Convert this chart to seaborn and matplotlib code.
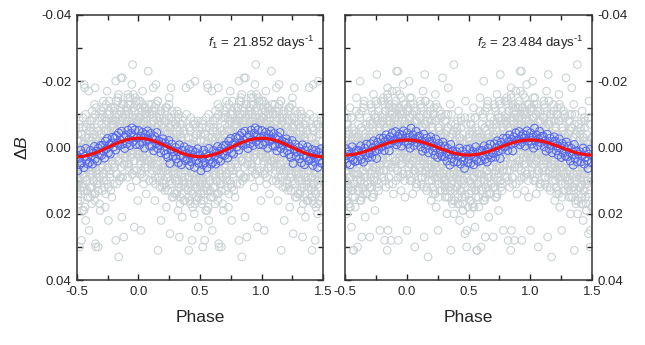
import numpy as np
import matplotlib
matplotlib.use("Agg")
import matplotlib.pyplot as plt
from matplotlib.ticker import MultipleLocator, FormatStrFormatter
import seaborn as sns

# ---- data (phase in thousandths of a cycle, dB in mmag) ----
# scattered single measurements, panel 1 (f1)
gray1_phase = [
    2, 6, 9, 13, 15, 19, 21, 24, 28, 31, 35, 38, 42, 45, 49, 52, 56, 60, 64, 68, 73, 80, 86, 93,
    101, 104, 108, 111, 115, 118, 121, 125, 127, 131, 134, 139, 143, 146, 150, 154, 157, 160, 165, 169, 174, 179, 184, 192,
    203, 206, 210, 214, 217, 221, 224, 228, 233, 236, 240, 244, 247, 251, 257, 261, 265, 268, 272, 277, 281, 286, 290, 296,
    302, 305, 309, 312, 316, 319, 323, 327, 330, 333, 338, 341, 345, 349, 352, 356, 360, 363, 368, 372, 377, 381, 387, 394,
    401, 404, 407, 410, 414, 418, 420, 423, 427, 431, 436, 439, 443, 447, 450, 454, 458, 460, 465, 470, 474, 480, 486, 493,
    502, 506, 509, 513, 516, 520, 523, 527, 531, 535, 538, 542, 546, 549, 553, 557, 560, 564, 568, 572, 577, 583, 590, 597,
    600, 604, 607, 611, 615, 619, 622, 626, 630, 633, 637, 641, 645, 649, 652, 655, 659, 663, 667, 674, 679, 684, 690, 696,
    702, 705, 709, 712, 716, 720, 723, 727, 731, 734, 738, 742, 746, 750, 753, 757, 761, 765, 770, 774, 779, 785, 791, 797,
    801, 804, 808, 812, 816, 817, 821, 825, 829, 833, 837, 840, 844, 848, 852, 855, 858, 862, 866, 870, 875, 881, 887, 894,
    902, 905, 909, 913, 916, 920, 924, 928, 931, 935, 939, 943, 947, 950, 953, 957, 961, 964, 967, 971, 976, 982, 988, 995,
]
gray1_dmag = [
    -14, -4, 3, -9, 8, -1, 25, -6, -11, 2, -17, -3, 11, -8, 0, 6, -12, -5, 14, -2, -7, -23, 4, -10,
    -6, 5, -13, 1, -3, 10, -18, -8, 3, -1, 16, -11, -19, 0, 7, -5, -14, 31, 2, -9, 12, -4, 22, -7,
    4, -9, 1, 13, -5, 7, -2, 18, -12, 3, 9, -6, 0, -15, 26, 5, -18, -3, 11, -8, 2, 15, -10, 6,
    8, -4, 14, 2, -11, 5, 19, -1, 10, 27, -7, 3, 12, -3, 6, 21, -9, 1, 16, -5, 9, 0, -18, 4,
    5, 12, -3, 31, 9, -6, -19, 17, 2, 7, 28, -1, 14, 4, -8, 20, 11, -20, 1, 15, -4, 8, 24, 3,
    9, -2, 16, 4, 11, -7, 30, 6, 13, 1, 28, -4, 19, 8, -1, 12, -19, -18, 5, 22, -6, 10, 15, -17,
    25, 3, -8, 12, 6, -2, 17, -11, 8, 1, -5, 14, -13, -18, 29, 30, 4, 10, -3, 30, 7, -9, 19, 0,
    -7, 4, 13, -2, -14, 8, 1, -9, 18, 3, -5, 10, -17, 6, -1, 22, -10, 2, 9, -4, -12, 15, 0, -8,
    -5, 6, -12, 2, -20, 28, -8, 11, -3, -15, 4, 33, -10, -1, 9, -6, -21, 0, 21, -21, -13, 27, 5, -9,
    -11, 3, -6, 9, -16, -2, 5, -9, -13, 1, 12, -4, -19, -7, -25, 2, -12, 7, 24, -3, -15, 0, -8, 16,
]

# scattered single measurements, panel 2 (f2)
gray2_phase = [
    1, 4, 8, 12, 15, 18, 22, 26, 29, 33, 37, 40, 44, 48, 52, 55, 59, 64, 68, 72, 77, 83, 89, 96,
    102, 106, 109, 113, 117, 120, 124, 128, 131, 135, 140, 145, 148, 152, 156, 160, 164, 168, 172, 176, 181, 186, 191, 197,
    201, 205, 208, 212, 215, 219, 223, 227, 231, 235, 238, 242, 246, 250, 253, 257, 261, 265, 269, 273, 278, 283, 289, 295,
    302, 306, 310, 313, 317, 321, 325, 329, 332, 335, 339, 343, 347, 351, 356, 359, 363, 367, 371, 376, 381, 382, 388, 394,
    401, 405, 408, 412, 416, 419, 423, 427, 431, 435, 438, 442, 446, 450, 454, 458, 462, 466, 470, 475, 479, 484, 486, 493,
    502, 505, 509, 513, 517, 521, 524, 528, 532, 536, 540, 544, 548, 552, 556, 560, 565, 570, 574, 578, 583, 588, 593, 598,
    601, 605, 609, 613, 617, 622, 625, 629, 633, 635, 639, 643, 647, 651, 655, 659, 663, 667, 672, 677, 682, 688, 694, 700,
    703, 707, 711, 714, 718, 722, 726, 730, 734, 738, 742, 746, 750, 754, 757, 761, 765, 769, 774, 778, 782, 787, 792, 798,
    801, 805, 809, 813, 817, 820, 824, 828, 832, 836, 841, 844, 847, 851, 855, 859, 863, 867, 871, 876, 881, 886, 891, 897,
    902, 906, 910, 913, 917, 921, 925, 928, 931, 935, 939, 943, 947, 951, 954, 958, 962, 966, 970, 975, 980, 985, 991, 996,
]
gray2_dmag = [
    25, -7, 3, -12, 6, -20, -3, 10, -9, 1, -15, 5, -1, 14, -6, 8, -11, 30, 2, -4, 12, -8, -2, 7,
    -9, 4, -14, 1, 11, -5, 7, -1, -17, 3, 27, -22, 9, -7, 0, 13, -10, 5, 33, -3, 8, -13, 2, 16,
    6, -8, 2, 14, -4, -12, 9, 0, -16, 5, 18, -2, -9, 11, 25, 3, -6, 8, -1, 13, -10, 4, -21, 1,
    10, -3, 15, 1, -10, 6, 20, -6, 3, -18, 12, -1, 8, -13, 31, 4, 16, -4, 9, 0, -25, 20, 13, -7,
    4, 12, -5, 17, 8, -11, 2, 22, -3, 10, 6, -8, 15, 0, 19, -2, 11, 5, 26, -14, 7, 30, 25, 1,
    14, -4, 7, 20, -9, 3, 11, -1, 17, 6, -12, 9, 2, 24, -6, 13, 31, 31, 4, -3, 18, 8, -15, 10,
    30, 5, -7, 12, -2, -20, 9, 16, -11, 27, 3, -5, 14, 1, -14, 8, 21, -3, 6, -9, 11, 0, -6, 27,
    -4, 8, -13, 2, 15, -7, 4, -16, 10, -1, 19, -9, 6, -3, -22, 12, 1, -11, 7, -5, 25, 3, -14, 9,
    -8, 3, -15, 7, -2, 28, -11, 1, 12, -6, 31, -18, 25, -4, 9, -13, 0, -9, 28, 5, -17, -1, 14, -7,
    -12, 4, -6, 10, -23, -3, 7, -23, 28, -9, 1, -16, 5, -4, 13, -10, -1, 8, -19, 2, -7, 15, -13, 0,
]

# denser core of the cloud (same phases used in both panels)
core_phase = [
    0, 3, 7, 10, 14, 17, 20, 23, 27, 30, 34, 37, 40, 44, 47, 51, 54, 58, 62, 66, 71, 76, 83, 89,
    100, 103, 107, 110, 113, 116, 122, 126, 129, 133, 137, 141, 144, 148, 152, 155, 159, 163, 167, 171, 177, 182, 188, 195,
    200, 202, 207, 209, 213, 218, 222, 225, 230, 232, 237, 239, 243, 248, 252, 255, 259, 263, 267, 271, 275, 280, 285, 293,
    300, 304, 307, 311, 314, 318, 321, 324, 328, 332, 336, 340, 343, 347, 350, 354, 358, 361, 366, 370, 375, 379, 385, 391,
    400, 403, 406, 409, 413, 417, 421, 425, 429, 433, 437, 440, 444, 448, 452, 456, 459, 463, 468, 472, 477, 482, 488, 496,
    501, 504, 507, 511, 514, 518, 522, 525, 529, 533, 537, 541, 544, 547, 551, 555, 558, 562, 566, 571, 575, 581, 587, 594,
    602, 606, 608, 612, 616, 620, 624, 628, 631, 634, 638, 642, 646, 650, 653, 657, 661, 665, 669, 673, 678, 683, 689, 697,
    700, 704, 708, 711, 715, 719, 721, 725, 729, 733, 736, 740, 744, 748, 752, 755, 759, 763, 767, 772, 776, 781, 786, 794,
    800, 803, 806, 810, 814, 818, 822, 826, 830, 834, 838, 842, 845, 849, 853, 856, 860, 864, 868, 873, 878, 884, 889, 896,
    900, 904, 907, 911, 915, 918, 922, 926, 930, 933, 937, 941, 945, 949, 952, 956, 959, 963, 968, 972, 977, 983, 990, 998,
]
core1_dmag = [
    -8, 1, -5, -12, 4, -2, -9, 7, -4, 0, -13, 3, -7, 9, -1, -10, 5, -3, -6, 2, -11, 6, -4, 10,
    3, -7, -1, 8, -11, -3, 5, -9, 1, -5, 11, -2, -13, 6, -6, 0, 9, -8, 2, -4, -10, 7, -1, 12,
    7, -3, 11, -8, 2, 5, -12, 0, 9, -5, 3, 13, -1, -9, 6, -4, 10, 1, -7, 4, -11, 8, -2, 14,
    10, -2, 5, 14, -6, 3, 8, -9, 12, 0, 6, -4, 15, 2, -7, 9, 4, -1, 11, -5, 7, 16, 1, -10,
    6, 13, -3, 9, 2, 16, -5, 11, 4, -1, 8, 14, -7, 5, 10, 0, 17, 3, -4, 12, 7, -8, 15, 1,
    11, 4, -2, 14, 7, -6, 9, 1, 16, 5, -4, 12, 3, 8, -9, 13, 0, 6, 18, -3, 10, 2, -7, 15,
    5, -5, 12, 2, 8, -8, 14, -1, 6, 10, -4, 3, 16, -10, 7, 0, 11, -6, 4, 13, -2, 9, 1, -11,
    -4, 6, -10, 2, 9, -6, 0, 12, -2, 4, -13, 7, -8, 1, 11, -5, 3, -11, 8, -1, 13, -7, 5, -3,
    -7, 2, -12, 5, -3, -9, 8, -5, 0, -14, 4, -1, 10, -8, -4, 6, -11, 1, -6, 9, -13, -2, 3, -10,
    -10, 0, -6, 5, -13, -3, 7, -8, -1, -15, 3, -5, -11, 8, -2, -7, 1, -12, 4, -4, -9, 10, -6, 2,
]
core2_dmag = [
    -6, 3, -11, 1, -4, 8, -9, -1, 5, -13, 0, -7, 10, -3, -10, 4, -5, 2, -12, 7, -2, -8, 11, -4,
    2, -9, 6, -3, -12, 9, -6, 0, 4, -10, 12, -1, -7, 3, -14, 8, -4, 1, -8, 6, -2, 10, -11, 5,
    -2, 8, -6, 12, 1, -10, 5, -4, 14, 0, -8, 7, 3, -12, 10, -1, 6, -5, 13, -3, 2, -9, 9, 4,
    9, -4, 3, 13, -1, 7, -8, 11, 2, 5, -6, 15, 0, 8, -3, 12, 4, -10, 10, 1, 6, -5, 16, -2,
    12, 3, -6, 9, 15, 0, 6, -3, 13, 8, -9, 4, 11, 1, 17, -4, 7, 10, -1, 14, 2, -7, 5, 18,
    5, 14, -2, 10, 1, 16, -7, 7, 12, -4, 3, 9, 18, -1, 6, -9, 13, 2, 11, -5, 8, 15, 0, -3,
    8, -3, 13, 0, 5, -9, 10, 2, -6, 15, 4, -1, 7, -12, 11, 1, -4, 9, 3, -7, 14, -2, 6, 12,
    3, -7, 9, -2, 12, -11, 1, 6, -5, 14, -1, -9, 8, 0, -13, 5, 10, -3, -8, 11, -6, 2, 7, -4,
    -3, -10, 4, -7, 9, -1, -13, 2, -5, 7, -9, 0, -15, 5, -2, 11, -8, 1, -11, 6, -4, -12, 3, -6,
    -9, 1, -5, -14, 4, -2, -10, 7, -7, 0, -12, 3, -4, 9, -11, -1, 5, -8, -3, 8, -13, 2, -6, -1,
]

core_phase_b = [
    1, 5, 8, 12, 16, 19, 22, 25, 29, 32, 36, 39, 42, 46, 49, 53, 56, 60, 64, 69, 74, 79, 85, 95,
    102, 105, 109, 112, 114, 119, 123, 128, 130, 135, 138, 142, 146, 149, 153, 157, 161, 164, 169, 173, 179, 185, 190, 198,
    201, 204, 205, 211, 215, 216, 220, 226, 229, 234, 235, 241, 245, 249, 253, 256, 260, 264, 269, 273, 278, 283, 288, 297,
    301, 303, 308, 310, 315, 317, 322, 326, 329, 331, 335, 339, 342, 346, 351, 353, 357, 362, 365, 369, 373, 380, 384, 396,
    402, 405, 408, 411, 412, 416, 419, 424, 426, 430, 434, 438, 441, 445, 449, 453, 457, 461, 466, 471, 475, 481, 489, 498,
    500, 503, 508, 510, 515, 519, 521, 526, 528, 532, 534, 539, 543, 548, 550, 554, 559, 563, 567, 570, 578, 584, 591, 599,
    601, 603, 609, 610, 614, 618, 621, 625, 629, 632, 636, 640, 643, 648, 651, 654, 658, 662, 666, 671, 676, 681, 686, 693,
    701, 703, 706, 710, 713, 717, 722, 724, 728, 732, 735, 739, 743, 747, 751, 756, 758, 762, 766, 771, 777, 783, 789, 799,
    802, 805, 807, 811, 815, 819, 820, 824, 827, 831, 835, 839, 843, 847, 850, 854, 857, 861, 865, 869, 874, 880, 886, 893,
    901, 903, 908, 910, 914, 919, 921, 925, 929, 934, 936, 940, 944, 948, 951, 955, 958, 962, 966, 970, 975, 981, 987, 994,
]
core1b_dmag = [
    -3, -9, 2, -6, -14, 5, -1, -7, 8, -11, -4, 1, -8, 3, -12, -2, 6, -5, -10, 0, -6, 4, -13, -3,
    -5, 4, -10, 0, 7, -8, 2, -3, -12, 9, -6, 1, -9, 5, -2, -14, 3, -7, 10, -4, -1, -11, 6, -3,
    -6, 10, 3, -2, -11, 6, 1, 12, -8, 4, -4, 8, -1, -13, 11, 2, -6, 5, -9, 15, 0, -3, 7, -7,
    4, -7, 9, 1, 13, -3, 6, -10, 11, 2, -5, 17, 0, 8, -2, 14, 5, -8, 3, 10, -4, 7, 12, -1,
    9, -1, 15, 4, -6, 11, 2, 7, -9, 13, 0, 5, 18, -3, 8, 3, -7, 12, 1, 16, -2, 6, 10, -5,
    3, 12, -4, 8, 17, 1, -8, 10, 5, -2, 14, 7, 0, -6, 11, 4, 19, -1, 9, -10, 6, 13, 2, -3,
    -2, 9, 4, 15, -6, 7, 1, 12, -3, 5, -9, 10, 3, 14, -1, 6, -12, 8, 0, 11, -5, 4, 17, 2,
    5, -3, -9, 8, 1, -12, 10, -5, 3, -1, 14, -7, 2, -10, 6, -2, 12, -14, 0, 7, -4, -8, 4, 11,
    -11, -3, 6, -8, 0, -14, 3, -5, -10, 8, -1, -16, 4, -7, -12, 1, -4, 9, -9, -2, -13, 5, -6, 2,
    -5, -12, 2, -8, -15, -1, 6, -10, -4, 3, -13, -7, 0, -9, 8, -3, -16, -6, 4, -11, -2, -14, 7, -8,
]
core2b_dmag = [
    -7, 2, -12, -3, 5, -9, 0, -15, 3, -6, 9, -1, -10, 4, -4, -13, 7, -2, -8, 1, 11, -11, -5, 3,
    -2, 6, -9, 3, -13, 0, 9, -6, -1, -11, 5, -4, 1, -14, 7, -7, 12, -3, -10, 4, -1, 8, -8, 2,
    4, -5, 10, -10, 1, 7, -3, 13, -8, 2, -13, 6, 0, 9, -6, 15, -2, 3, -11, 8, -4, 11, 5, -1,
    7, -2, 12, -8, 3, 10, -5, 15, 1, 6, -10, 9, 4, -3, 13, 0, -7, 11, 2, 17, -4, 8, -1, 5,
    -4, 9, 2, 14, -8, 6, 11, 0, 17, -2, 5, 13, -6, 8, 3, 19, -1, 10, 4, -9, 15, 1, 7, -3,
    10, -3, 7, 16, -7, 4, 13, 1, -5, 9, 18, -1, 6, 12, -9, 3, 15, 0, 8, -4, 11, 2, -11, 5,
    1, 13, -4, 8, -10, 5, 16, 0, 10, -6, 3, 12, -2, 7, -13, 9, 4, -1, 14, -7, 6, 2, 11, -3,
    -8, 4, 12, -3, -12, 7, 1, -6, 15, -1, 9, -10, 3, -14, 6, -4, 10, 0, -9, 13, -2, 5, -7, 2,
    2, -9, -3, 7, -14, -1, -6, 10, -11, 0, 5, -8, -16, 3, -4, 9, -12, 1, -7, 6, -2, -10, 11, -5,
    -13, -1, 6, -9, -4, -17, 2, -7, 9, -12, -2, 4, -10, 0, -6, -15, 7, -3, 3, -11, -5, 10, -8, -1,
]

# binned means (blue)
blue1_phase = [
    3, 11, 19, 27, 35, 43, 51, 59, 67, 75, 83, 92,
    101, 109, 117, 125, 133, 141, 149, 157, 165, 173, 182, 191,
    200, 208, 216, 224, 232, 240, 248, 256, 264, 272, 281, 290,
    301, 309, 317, 325, 333, 341, 349, 357, 365, 373, 382, 391,
    400, 408, 416, 424, 432, 440, 448, 456, 464, 472, 481, 490,
    500, 508, 516, 524, 532, 540, 548, 556, 564, 572, 581, 590,
    603, 611, 619, 627, 635, 643, 651, 659, 667, 675, 684, 693,
    701, 709, 717, 725, 733, 741, 749, 757, 765, 773, 782, 791,
    800, 808, 816, 824, 832, 840, 848, 856, 864, 872, 881, 890,
    900, 908, 916, 924, 932, 940, 948, 956, 964, 972, 981, 990,
]
blue1_dmag = [
    -5.1, -0.8, -3.4, -1.6, -4.6, -2.8, 0.2, -3.9, -1.9, -5.0, -2.4, -0.5,
    -4.2, -0.4, -2.6, 1.0, -3.3, -1.2, -4.5, 0.3, -2.0, -0.9, 1.6, -1.5,
    -2.6, 0.9, -1.4, 2.1, -0.3, 3.0, -2.1, 4.8, 0.6, -1.0, 2.6, 1.3,
    0.0, 3.4, 1.2, 4.6, -0.8, 2.5, 5.2, 0.9, 3.0, -0.2, 4.0, 1.8,
    3.6, 0.6, 5.4, 2.0, 4.4, 0.9, 2.9, 6.0, 1.5, 3.9, 0.4, 4.8,
    2.2, 7.0, 3.3, 5.2, 0.8, 4.6, 1.9, 6.1, 2.7, 0.3, 3.8, 5.0,
    4.5, 0.9, 2.6, 5.0, 1.6, -0.3, 3.4, 1.2, 4.1, 0.2, 2.2, -0.6,
    2.4, -0.6, 1.1, 3.2, -1.9, 0.4, -2.7, 1.6, -0.8, 2.0, -1.4, -3.1,
    -0.2, -2.8, 0.8, -3.6, -1.3, -4.4, -0.6, -2.2, -4.9, -1.0, -3.1, 0.3,
    -3.7, -1.2, -5.2, -2.4, -0.6, -4.3, -5.9, -1.8, -3.2, -5.3, -0.9, -2.9,
]
blue2_phase = [
    2, 10, 18, 26, 34, 42, 50, 58, 66, 74, 83, 92,
    104, 112, 120, 128, 136, 144, 152, 160, 168, 176, 185, 194,
    202, 210, 218, 226, 234, 242, 250, 258, 266, 274, 283, 292,
    300, 308, 316, 324, 332, 340, 348, 356, 364, 372, 381, 390,
    403, 411, 419, 427, 435, 443, 451, 459, 467, 475, 484, 493,
    501, 509, 517, 525, 533, 541, 549, 557, 565, 573, 582, 591,
    602, 610, 618, 626, 634, 642, 650, 658, 666, 674, 683, 692,
    700, 708, 716, 724, 732, 740, 748, 756, 764, 772, 781, 790,
    801, 809, 817, 825, 833, 841, 849, 857, 865, 873, 882, 891,
    901, 909, 917, 925, 933, 941, 949, 957, 965, 973, 982, 991,
]
blue2_dmag = [
    -4.4, -1.0, -3.0, 0.2, -5.8, -2.1, -3.8, -0.6, -2.6, -4.9, -1.5, -3.3,
    -3.4, -0.2, -2.0, 1.1, -4.0, -1.1, 0.4, -2.8, -0.7, 1.6, -1.8, -3.2,
    -1.9, 1.0, -0.5, 2.3, -2.6, 0.2, 3.0, -1.2, 1.7, -0.3, 2.6, -1.6,
    2.8, -0.4, 1.5, 4.1, 0.3, 2.2, 5.3, -0.9, 3.4, 1.0, 4.4, 2.0,
    1.3, 4.3, 2.6, 0.2, 5.0, 3.0, 1.1, 3.9, 6.3, 2.0, 0.5, 4.6,
    3.5, 0.4, 4.8, 2.1, 1.2, 5.2, 2.9, -0.2, 3.8, 1.6, 4.2, 0.9,
    4.0, 0.9, 2.7, -0.5, 3.6, 1.3, 4.4, 0.2, 2.2, -1.0, 3.1, 1.6,
    1.8, -1.1, 2.9, 0.1, -2.0, 1.2, -0.6, 3.3, -1.6, 0.6, -2.8, -0.2,
    -0.4, -2.8, 0.9, -1.9, -3.8, -0.9, -2.4, 1.0, -3.2, -1.4, -4.4, -2.0,
    -2.2, -4.8, -0.8, -3.4, -1.6, -4.0, -2.7, -0.4, -3.7, -5.0, -1.9, -2.9,
]

# fitted curves, read at phase steps of 0.05 over one cycle
fit_phase = [0, 50, 100, 150, 200, 250, 300, 350, 400, 450, 500,
             550, 600, 650, 700, 750, 800, 850, 900, 950, 1000]
fit1_dmag = [-2.8, -2.66, -2.27, -1.65, -0.87, 0, 0.87, 1.65, 2.27, 2.66, 2.8,
             2.66, 2.27, 1.65, 0.87, 0, -0.87, -1.65, -2.27, -2.66, -2.8]
fit2_dmag = [-2.3, -2.19, -1.86, -1.35, -0.71, 0, 0.71, 1.35, 1.86, 2.19, 2.3,
             2.19, 1.86, 1.35, 0.71, 0, -0.71, -1.35, -1.86, -2.19, -2.3]

labels = [r'$f_1$ = 21.852 days$^{\text{-1}}$', r'$f_2$ = 23.484 days$^{\text{-1}}$']


def fold(phase, dmag):
    # repeat one cycle so the plot spans phase -0.5 .. 1.5
    p = np.asarray(phase) / 1000.0
    d = np.asarray(dmag) / 1000.0
    lo = p >= 0.5
    hi = p <= 0.5
    x = np.concatenate([p[lo] - 1, p, p[hi] + 1])
    y = np.concatenate([d[lo], d, d[hi]])
    return x, y


sns.set_theme(style="ticks")
plt.rcParams['font.family'] = ['Liberation Sans', 'DejaVu Sans']
plt.rcParams['mathtext.fontset'] = 'custom'
plt.rcParams['mathtext.rm'] = 'Liberation Sans'
plt.rcParams['mathtext.it'] = 'Liberation Sans:italic'
plt.rcParams['axes.unicode_minus'] = False

fig = plt.figure(figsize=(6.45, 3.45), dpi=100)
ax1 = fig.add_axes([0.119, 0.188, 0.382, 0.769])
ax2 = fig.add_axes([0.535, 0.188, 0.383, 0.769])

panels = [
    (ax1, gray1_phase, gray1_dmag, core1_dmag, core1b_dmag, blue1_phase, blue1_dmag, fit1_dmag),
    (ax2, gray2_phase, gray2_dmag, core2_dmag, core2b_dmag, blue2_phase, blue2_dmag, fit2_dmag),
]

for i, (ax, gp, gd, cd, cbd, bp, bd, fd) in enumerate(panels):
    gx, gy = fold(list(gp) + core_phase + core_phase_b, list(gd) + cd + cbd)
    sns.scatterplot(x=gx, y=gy, ax=ax, marker='o', s=30, facecolors='none',
                    edgecolor='#c9d1d3', linewidth=0.75, zorder=1)
    bx, by = fold(bp, bd)
    sns.scatterplot(x=bx, y=by, ax=ax, marker='o', s=32, facecolors='none',
                    edgecolor='#5567f0', linewidth=0.7, zorder=2)
    fx, fy = fold(fit_phase, fd)
    order = np.argsort(fx, kind='stable')
    sns.lineplot(x=fx[order], y=fy[order], ax=ax, color='#f01010', lw=2.3,
                 sort=False, estimator=None, zorder=3)

    ax.set_xlim(-0.5, 1.5)
    ax.set_ylim(0.04, -0.04)
    ax.xaxis.set_major_locator(MultipleLocator(0.5))
    ax.xaxis.set_minor_locator(MultipleLocator(0.25))
    ax.yaxis.set_major_locator(MultipleLocator(0.02))
    ax.yaxis.set_minor_locator(MultipleLocator(0.01))
    ax.xaxis.set_major_formatter(FormatStrFormatter('%.1f'))
    ax.yaxis.set_major_formatter(FormatStrFormatter('%.2f'))
    ax.tick_params(which='both', direction='in', top=True, right=True,
                   labelsize=9.5, color='#222222', width=1.0, pad=4)
    ax.tick_params(which='major', length=4.5)
    ax.tick_params(which='minor', length=3.5)
    for sp in ax.spines.values():
        sp.set_linewidth(1.1)
        sp.set_color('#333333')
    ax.set_xlabel('Phase', fontsize=12.5, labelpad=9)
    ax.text(0.965, 0.895, labels[i], transform=ax.transAxes, ha='right',
            va='center', fontsize=9.5)

ax1.set_ylabel(r'$\Delta B$', fontsize=12.5)
ax1.yaxis.set_label_coords(-0.19, 0.5)
ax2.set_ylabel('')
ax2.tick_params(which='both', labelleft=False, labelright=True)

plt.savefig('out.png', dpi=100)
